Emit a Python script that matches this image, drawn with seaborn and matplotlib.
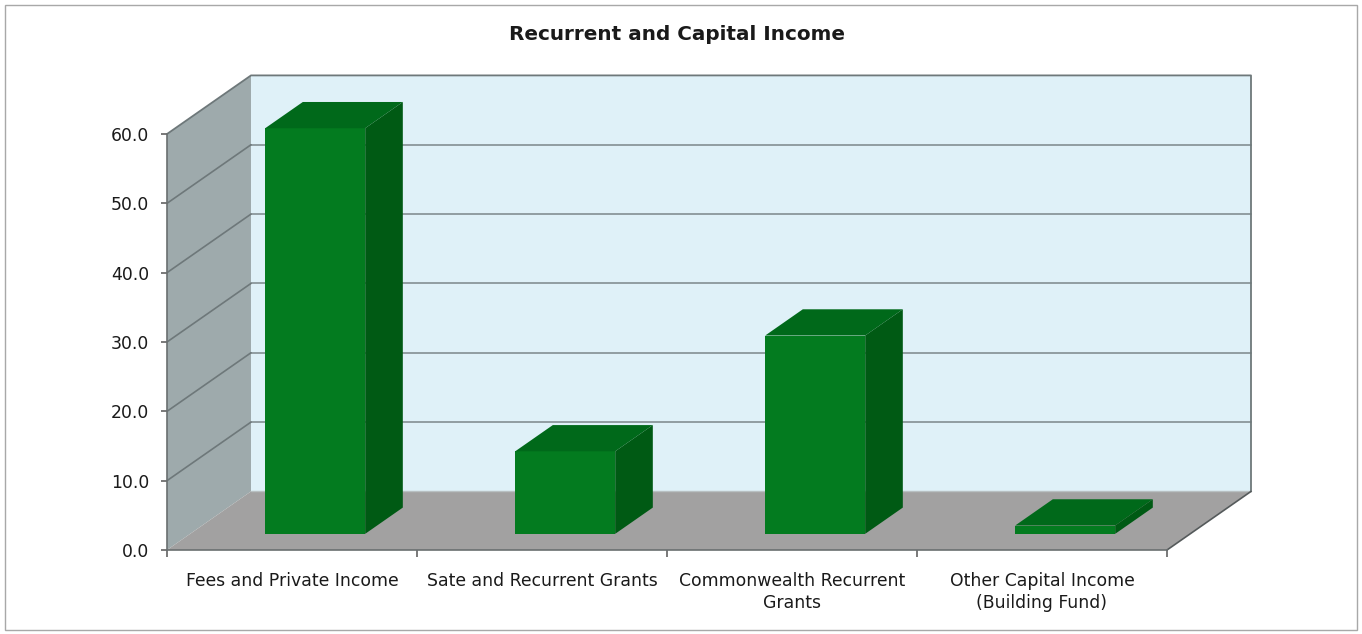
import matplotlib
matplotlib.use("Agg")
import matplotlib.pyplot as plt
import matplotlib.patches as mpatches
import matplotlib.transforms as mtransforms
import seaborn as sns
import pandas as pd

# ---- data -------------------------------------------------------------
title = "Recurrent and Capital Income"
categories = ["Fees and Private Income", "Sate and Recurrent Grants",
              "Commonwealth Recurrent\nGrants", "Other Capital Income\n(Building Fund)"]
values = [58.5, 11.9, 28.6, 1.2]
y_ticks = [0, 10, 20, 30, 40, 50, 60]

# ---- style ------------------------------------------------------------
sns.set_theme(style="white")
plt.rcParams["font.family"] = ["DejaVu Sans"]

WALL_BACK = "#dff1f8"
WALL_SIDE = "#9eaaac"
FLOOR = "#a2a1a1"
GRID = "#8a979a"
EDGE = "#6e787a"
FRONT = "#037b1f"
TOP = "#00691a"
SIDE = "#005a14"
TEXT = "#1a1a1a"

# depth of the 3-D box expressed in data units (x: category, y: value)
DX, DY = 0.336, 8.45
F0, F1 = 0.276, 0.724        # front / back plane of the bars within the depth

fig = plt.figure(figsize=(13.62, 6.34), dpi=100)
ax = fig.add_axes([167 / 1362, 84 / 634, 1000 / 1362, 416 / 634])
ax.patch.set_visible(False)

df = pd.DataFrame({"category": categories, "value": values})
sns.barplot(data=df, x="category", y="value", width=0.4, color=FRONT,
            saturation=1, linewidth=0, ax=ax, zorder=6)

xmin, xmax = -0.5, len(categories) - 0.5
ymin, ymax = y_ticks[0], y_ticks[-1]
ax.set_xlim(xmin, xmax)
ax.set_ylim(ymin, ymax)

# push the front faces back into the box and add top / side faces
shift = mtransforms.Affine2D().translate(F0 * DX, F0 * DY) + ax.transData
depth = F1 - F0
bars = list(ax.patches)
for bar in bars:
    bar.set_transform(shift)
    bar.set_clip_on(False)
    x0 = bar.get_x()
    x1 = x0 + bar.get_width()
    h = bar.get_height()
    ddx, ddy = depth * DX, depth * DY
    top = mpatches.Polygon([(x0, h), (x1, h), (x1 + ddx, h + ddy), (x0 + ddx, h + ddy)],
                           closed=True, facecolor=TOP, edgecolor="none",
                           transform=shift, clip_on=False, zorder=6)
    side = mpatches.Polygon([(x1, 0), (x1, h), (x1 + ddx, h + ddy), (x1 + ddx, ddy)],
                            closed=True, facecolor=SIDE, edgecolor="none",
                            transform=shift, clip_on=False, zorder=6)
    ax.add_patch(top)
    ax.add_patch(side)

# walls and floor
back = mpatches.Polygon([(xmin + DX, ymin + DY), (xmax + DX, ymin + DY),
                         (xmax + DX, ymax + DY), (xmin + DX, ymax + DY)],
                        closed=True, facecolor=WALL_BACK, edgecolor="none",
                        clip_on=False, zorder=1)
left = mpatches.Polygon([(xmin, ymin), (xmin + DX, ymin + DY),
                         (xmin + DX, ymax + DY), (xmin, ymax)],
                        closed=True, facecolor=WALL_SIDE, edgecolor="none",
                        clip_on=False, zorder=1)
floor = mpatches.Polygon([(xmin, ymin), (xmax, ymin),
                          (xmax + DX, ymin + DY), (xmin + DX, ymin + DY)],
                         closed=True, facecolor=FLOOR, edgecolor="none",
                         clip_on=False, zorder=2)
for p in (back, left, floor):
    ax.add_patch(p)

# gridlines on the back wall and the side wall
for v in y_ticks[1:-1]:
    ax.plot([xmin + DX, xmax + DX], [v + DY, v + DY], color=GRID, lw=1.3,
            clip_on=False, zorder=1.5)
    ax.plot([xmin, xmin + DX], [v, v + DY], color=EDGE, lw=1.2,
            clip_on=False, zorder=1.5)

# box outline
ax.plot([xmin, xmin + DX, xmax + DX, xmax + DX], [ymax, ymax + DY, ymax + DY, ymin + DY],
        color=EDGE, lw=1.3, clip_on=False, zorder=3)
ax.plot([xmin + DX, xmax + DX], [ymin + DY, ymin + DY], color="#b8c0c2", lw=1.0,
        clip_on=False, zorder=2.5)
ax.plot([xmax, xmax + DX], [ymin, ymin + DY], color="#555a5b", lw=1.2,
        clip_on=False, zorder=3)

# axes, ticks and labels
for s in ("top", "right"):
    ax.spines[s].set_visible(False)
for s in ("left", "bottom"):
    ax.spines[s].set_color("#6a6f70")
    ax.spines[s].set_linewidth(1.2)
    ax.spines[s].set_zorder(4)

ax.set_yticks(y_ticks)
ax.set_yticklabels([f"{v:.1f}" for v in y_ticks])
ax.set_xticks(range(len(categories)))
ax.set_xticklabels(categories, linespacing=1.3)
ax.set_xticks([i - 0.5 for i in range(len(categories) + 1)], minor=True)
ax.tick_params(axis="y", left=True, length=4, width=1.1, color="#555",
               direction="out", pad=9, labelsize=12.4, labelcolor=TEXT)
ax.tick_params(axis="x", which="major", bottom=True, length=0, pad=15.5,
               labelsize=12.4, labelcolor=TEXT)
ax.tick_params(axis="x", which="minor", bottom=True, length=5, width=1.1,
               color="#555", direction="out")
for lab in ax.get_xticklabels():
    lab.set_verticalalignment("top")
ax.set_xlabel("")
ax.set_ylabel("")

fig.text(677 / 1362, 1 - 35 / 634, title, ha="center", va="center",
         fontsize=14.4, fontweight="bold", color=TEXT)

# thin frame around the whole chart
fig.patches.append(mpatches.Rectangle((5 / 1362, 4 / 634), 1352 / 1362, 625 / 634,
                                      transform=fig.transFigure, fill=False,
                                      edgecolor="#a8a8a8", lw=1.0))

fig.savefig("out.png", dpi=100)
